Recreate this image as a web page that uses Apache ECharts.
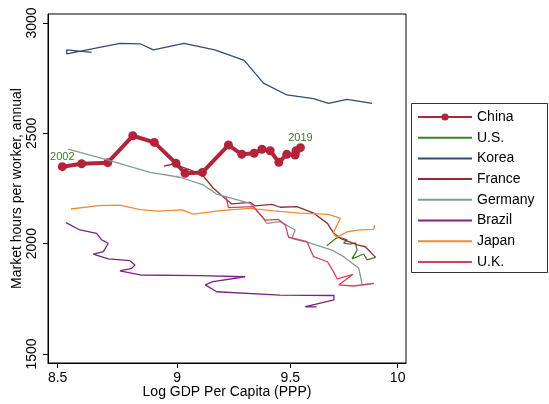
<!DOCTYPE html>
<html>
<head>
<meta charset="utf-8">
<script src="https://cdn.jsdelivr.net/npm/echarts@6/dist/echarts.min.js"></script>
<style>html,body{margin:0;padding:0;background:#fff}#c{width:549px;height:404px}</style>
</head>
<body>
<div id="c"></div>
<script>
// ---- data: log GDP per capita (x) and market hours per worker (y) ----
const xTicks = [8.5, 9, 9.5, 10];
const yTicks = [1500, 2000, 2500, 3000];

const chinaX = [8.519, 8.598, 8.706, 8.811, 8.902, 8.995, 9.034, 9.109, 9.223, 9.282, 9.337, 9.372, 9.409, 9.448, 9.484, 9.522, 9.526, 9.546];
const chinaY = [2349, 2362, 2367, 2489, 2459, 2364, 2319, 2323, 2447, 2405, 2410, 2428, 2421, 2369, 2405, 2402, 2421, 2435];
const chinaYears = [2002, 2019];

const usX = [9.667, 9.710, 9.725, 9.761, 9.745, 9.776, 9.800, 9.808, 9.784, 9.839, 9.855, 9.895];
const usY = [1991, 2024, 2029, 2017, 2002, 1998, 2004, 1971, 1931, 1953, 1926, 1938];

const koreaX = [8.639, 8.537, 8.537, 8.757, 8.842, 8.898, 9.029, 9.163, 9.293, 9.379, 9.484, 9.606, 9.675, 9.761, 9.879];
const koreaY = [2867, 2878, 2860, 2908, 2906, 2878, 2908, 2878, 2831, 2728, 2674, 2657, 2636, 2654, 2636];

const franceX = [8.944, 8.984, 9.056, 9.111, 9.157, 9.201, 9.238, 9.319, 9.342, 9.417, 9.454, 9.530, 9.607, 9.670, 9.700, 9.730, 9.809, 9.847, 9.895];
const franceY = [2352, 2361, 2334, 2309, 2251, 2211, 2180, 2187, 2171, 2178, 2165, 2168, 2138, 2092, 2047, 2024, 1994, 1986, 1938];

const germanyX = [8.543, 8.708, 8.884, 9.012, 9.113, 9.171, 9.319, 9.372, 9.394, 9.454, 9.522, 9.507, 9.591, 9.691, 9.745, 9.816, 9.832, 9.886];
const germanyY = [2428, 2379, 2323, 2301, 2266, 2225, 2183, 2122, 2092, 2100, 2062, 2024, 2002, 1971, 1941, 1888, 1813, 1820];

const brazilX = [8.534, 8.591, 8.660, 8.681, 8.708, 8.688, 8.646, 8.708, 8.799, 8.820, 8.806, 8.757, 8.842, 9.099, 9.297, 9.156, 9.121, 9.172, 9.454, 9.700, 9.700, 9.623, 9.568, 9.620];
const brazilY = [2095, 2062, 2047, 2017, 2002, 1964, 1953, 1931, 1923, 1903, 1888, 1877, 1858, 1855, 1850, 1828, 1813, 1782, 1767, 1765, 1745, 1727, 1714, 1713];

const japanX = [8.554, 8.667, 8.757, 8.842, 8.918, 9.020, 9.070, 9.187, 9.319, 9.424, 9.545, 9.676, 9.730, 9.696, 9.714, 9.761, 9.823, 9.887, 9.890];
const japanY = [2157, 2172, 2175, 2154, 2147, 2153, 2134, 2150, 2160, 2149, 2138, 2133, 2115, 2047, 2029, 2054, 2062, 2065, 2085];

const ukX = [9.213, 9.223, 9.334, 9.386, 9.447, 9.477, 9.492, 9.576, 9.606, 9.670, 9.693, 9.716, 9.789, 9.722, 9.791, 9.887];
const ukY = [2211, 2163, 2168, 2107, 2110, 2085, 2029, 2009, 1941, 1918, 1881, 1840, 1861, 1813, 1808, 1820];

const colors = {
  China: '#b3243a', 'U.S.': '#3f7f2a', Korea: '#2f4d77', France: '#8c2f33',
  Germany: '#869a96', Brazil: '#7b2585', Japan: '#f28a32', 'U.K.': '#d5425c'
};

// x axis is on a log scale: plot ln(x)
const pts = (xs, ys) => xs.map((x, i) => [Math.log(x), ys[i]]);
const FONT = '"Liberation Sans", Arial, Helvetica, sans-serif';

const chinaData = pts(chinaX, chinaY).map((p, i, arr) => {
  const lab = (i === 0) ? chinaYears[0] : (i === arr.length - 1 ? chinaYears[1] : null);
  if (lab === null) return p;
  return { value: p, label: { show: true, formatter: String(lab), position: 'top', distance: 0,
    color: '#3a7a2c', fontSize: 11, fontFamily: FONT } };
});

function thin(name, xs, ys) {
  return { name, type: 'line', data: pts(xs, ys), symbol: 'none', showSymbol: false, z: 3,
    lineStyle: { width: 1.3, color: colors[name] }, itemStyle: { color: colors[name] },
    emphasis: { disabled: true }, animation: false };
}

const series = [
  { name: 'China', type: 'line', data: chinaData, symbol: 'circle', symbolSize: 9, z: 2,
    lineStyle: { width: 4, color: colors.China }, itemStyle: { color: colors.China },
    emphasis: { disabled: true }, animation: false },
  thin('U.S.', usX, usY),
  thin('Korea', koreaX, koreaY),
  thin('France', franceX, franceY),
  thin('Germany', germanyX, germanyY),
  thin('Brazil', brazilX, brazilY),
  thin('Japan', japanX, japanY),
  thin('U.K.', ukX, ukY)
];

const names = ['China', 'U.S.', 'Korea', 'France', 'Germany', 'Brazil', 'Japan', 'U.K.'];
const legendData = names.map(n => n === 'China' ? { name: n } :
  { name: n, itemStyle: { color: 'rgba(0,0,0,0)', borderWidth: 0, opacity: 0 } });

const lnTicks = xTicks.map(Math.log);
const chart = echarts.init(document.getElementById('c'), null, { renderer: 'canvas' });
chart.setOption({
  animation: false,
  textStyle: { fontFamily: FONT },
  grid: { left: 48, right: 143, top: 14, bottom: 41, show: true, borderColor: '#000', borderWidth: 1,
    containLabel: false, outerBoundsMode: 'none' },
  xAxis: {
    type: 'value', min: Math.log(8.461), max: Math.log(10.04),
    name: 'Log GDP Per Capita (PPP)', nameLocation: 'middle', nameGap: 22, nameMoveOverlap: false,
    nameTextStyle: { fontSize: 14, color: '#000', fontFamily: FONT },
    axisLine: { show: true, onZero: false, lineStyle: { color: '#000', width: 1 } },
    axisTick: { show: true, length: 5, customValues: lnTicks, lineStyle: { color: '#000' } },
    axisLabel: { customValues: lnTicks, margin: 8, fontSize: 14, color: '#000', fontFamily: FONT,
      formatter: v => String(Number(Math.exp(v).toFixed(1))) },
    splitLine: { show: false }
  },
  yAxis: {
    type: 'value', min: 1459, max: 3041,
    name: 'Market hours per worker, annual', nameLocation: 'middle', nameGap: 24, nameMoveOverlap: false,
    nameTextStyle: { fontSize: 14, color: '#000', fontFamily: FONT },
    axisLine: { show: true, onZero: false, lineStyle: { color: '#000', width: 1 } },
    axisTick: { show: true, length: 5, customValues: yTicks, lineStyle: { color: '#000' } },
    axisLabel: { customValues: yTicks, rotate: 90, margin: 9, fontSize: 14, color: '#000', fontFamily: FONT,
      formatter: v => String(Math.round(v)) },
    splitLine: { show: false }
  },
  legend: {
    orient: 'vertical', left: 412, top: 105, itemWidth: 54, itemHeight: 9, itemGap: 6.7,
    textStyle: { fontSize: 14, color: '#000', fontFamily: FONT },
    data: legendData,
    selectedMode: false
  },
  graphic: [{ type: 'rect', shape: { x: 411.5, y: 103.5, width: 136, height: 169 },
    style: { fill: 'none', stroke: '#333', lineWidth: 1 }, silent: true }],
  series
});
</script>
</body>
</html>
